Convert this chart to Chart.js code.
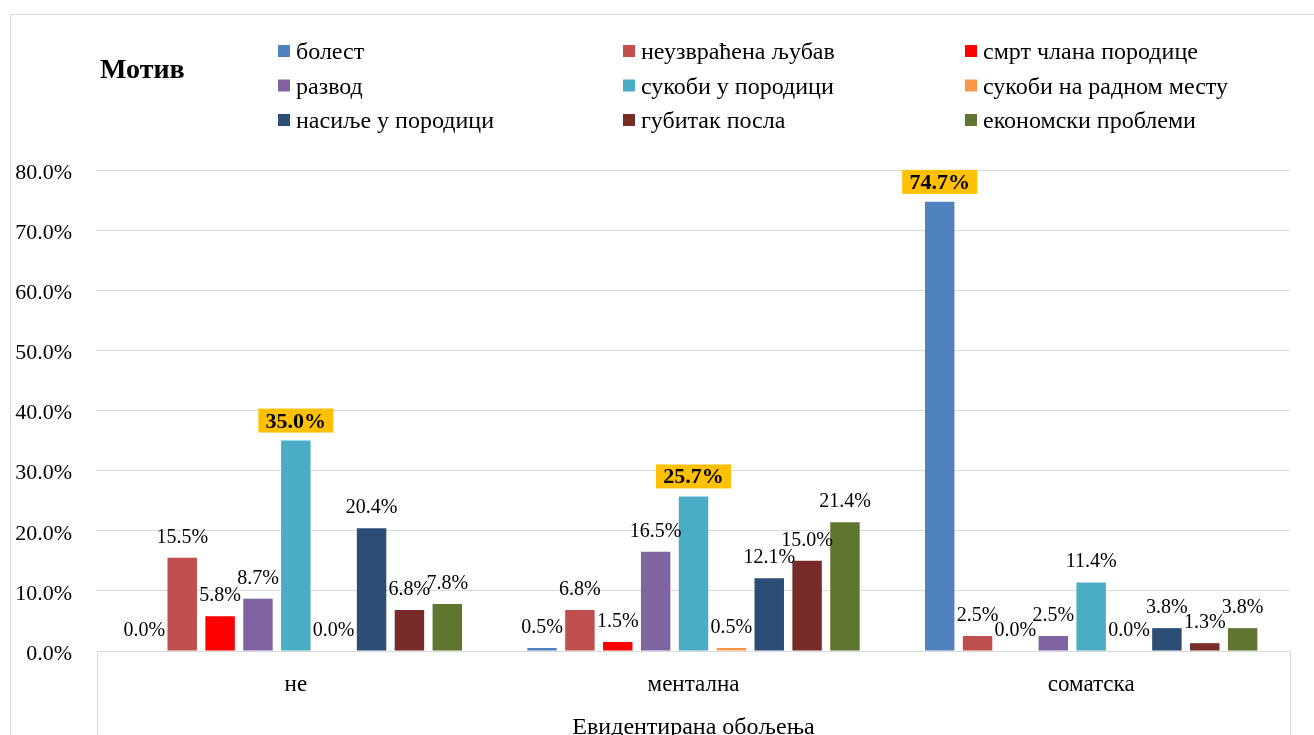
<!DOCTYPE html>
<html>
<head>
<meta charset="utf-8">
<script src="https://cdn.jsdelivr.net/npm/chart.js@4/dist/chart.umd.min.js"></script>
<style>
html,body{margin:0;padding:0;background:#fff;overflow:hidden;}
#wrap{position:relative;width:1314px;height:735px;}
</style>
</head>
<body>
<div id="wrap"><canvas id="c" width="1314" height="735"></canvas></div>
<script>
// ---- data ----
const categories = ['не', 'ментална', 'соматска'];
const seriesNames = ['болест', 'неузвраћена љубав', 'смрт члана породице', 'развод', 'сукоби у породици', 'сукоби на радном месту', 'насиље у породици', 'губитак посла', 'економски проблеми'];
const bolest = [0.0, 0.5, 74.7];
const neuzvracenaLjubav = [15.5, 6.8, 2.5];
const smrtClana = [5.8, 1.5, 0.0];
const razvod = [8.7, 16.5, 2.5];
const sukobiPorodica = [35.0, 25.7, 11.4];
const sukobiPosao = [0.0, 0.5, 0.0];
const nasilje = [20.4, 12.1, 3.8];
const gubitakPosla = [6.8, 15.0, 1.3];
const ekonomski = [7.8, 21.4, 3.8];
const yTicks = [0, 10, 20, 30, 40, 50, 60, 70, 80];
const chartTitle = 'Мотив';
const axisTitle = 'Евидентирана обољења';

const seriesValues = [bolest, neuzvracenaLjubav, smrtClana, razvod, sukobiPorodica, sukobiPosao, nasilje, gubitakPosla, ekonomski];
const seriesColors = ['#4F81BD', '#C0504D', '#FF0000', '#8064A2', '#4BACC6', '#F79646', '#2C4D75', '#772C2A', '#5F7530'];

const FONT = '"Liberation Serif", "Times New Roman", serif';

const decor = {
  id: 'decor',
  beforeDraw(chart) {
    const ctx = chart.ctx;
    ctx.save();
    ctx.fillStyle = '#fff';
    ctx.fillRect(0, 0, chart.width, chart.height);
    ctx.strokeStyle = '#d9d9d9';
    ctx.lineWidth = 1;
    ctx.strokeRect(10.5, 14.5, 3000, 3000);
    ctx.restore();
  },
  afterDraw(chart) {
    const ctx = chart.ctx;
    const a = chart.chartArea;
    ctx.save();
    // category axis box
    ctx.strokeStyle = '#d9d9d9';
    ctx.lineWidth = 1;
    ctx.beginPath();
    ctx.moveTo(Math.round(a.left) + 0.5, a.bottom);
    ctx.lineTo(Math.round(a.left) + 0.5, chart.height);
    ctx.moveTo(Math.round(a.right) + 0.5, a.bottom);
    ctx.lineTo(Math.round(a.right) + 0.5, chart.height);
    ctx.stroke();
    // axis title
    ctx.fillStyle = '#000';
    ctx.font = '24px ' + FONT;
    ctx.textAlign = 'center';
    ctx.textBaseline = 'alphabetic';
    ctx.fillText(axisTitle, (a.left + a.right) / 2, 734);
    // chart title
    ctx.font = 'bold 28px ' + FONT;
    ctx.textAlign = 'left';
    ctx.fillText(chartTitle, 100, 78);
    // legend
    const colX = [278, 623, 965];
    const rowY = [51, 85.5, 120];
    ctx.font = '24px ' + FONT;
    ctx.textBaseline = 'middle';
    seriesNames.forEach((name, i) => {
      const cx = colX[i % 3], cy = rowY[Math.floor(i / 3)];
      ctx.fillStyle = seriesColors[i];
      ctx.fillRect(cx, cy - 6, 12, 12);
      ctx.fillStyle = '#000';
      ctx.fillText(name, cx + 18, cy + 2);
    });
    ctx.restore();
  },
  afterDatasetsDraw(chart) {
    const ctx = chart.ctx;
    ctx.save();
    ctx.textAlign = 'center';
    // max per category gets highlighted
    const maxIdx = categories.map((_, j) => {
      let best = 0;
      seriesValues.forEach((arr, i) => { if (arr[j] > seriesValues[best][j]) best = i; });
      return best;
    });
    chart.data.datasets.forEach((ds, i) => {
      const meta = chart.getDatasetMeta(i);
      meta.data.forEach((bar, j) => {
        const txt = ds.data[j].toFixed(1) + '%';
        const top = bar.y;
        if (maxIdx[j] === i) {
          ctx.font = 'bold 22px ' + FONT;
          const w = 75, h = 24;
          ctx.fillStyle = '#FFC000';
          ctx.fillRect(bar.x - w / 2, top - 8 - h, w, h);
          ctx.fillStyle = '#000';
          ctx.textBaseline = 'alphabetic';
          ctx.fillText(txt, bar.x, top - 13);
        } else {
          ctx.font = '20px ' + FONT;
          ctx.fillStyle = '#000';
          ctx.textBaseline = 'alphabetic';
          ctx.fillText(txt, bar.x, top - 15);
        }
      });
    });
    ctx.restore();
  }
};

new Chart(document.getElementById('c'), {
  type: 'bar',
  data: {
    labels: categories,
    datasets: seriesNames.map((n, i) => ({
      label: n,
      data: seriesValues[i],
      backgroundColor: seriesColors[i],
      borderWidth: 0,
      categoryPercentage: 0.857,
      barPercentage: 0.778
    }))
  },
  options: {
    responsive: false,
    animation: false,
    layout: { padding: { left: 0, right: 24, top: 170, bottom: 0 } },
    plugins: { legend: { display: false }, tooltip: { enabled: false }, title: { display: false } },
    scales: {
      x: {
        grid: { display: false, drawTicks: false },
        border: { display: false },
        ticks: { color: '#000', font: { family: FONT, size: 23 }, padding: 20, maxRotation: 0 },
        afterFit(s) { s.height = 84; }
      },
      y: {
        min: 0, max: 80,
        afterBuildTicks(s) { s.ticks = yTicks.map(v => ({ value: v })); },
        grid: { color: '#d9d9d9', lineWidth: 1, drawTicks: false },
        border: { display: false },
        ticks: { color: '#000', font: { family: FONT, size: 22 }, padding: 25, labelOffset: 3, callback: v => v.toFixed(1) + '%' },
        afterFit(s) { s.width = 97; }
      }
    }
  },
  plugins: [decor]
});
</script>
</body>
</html>
